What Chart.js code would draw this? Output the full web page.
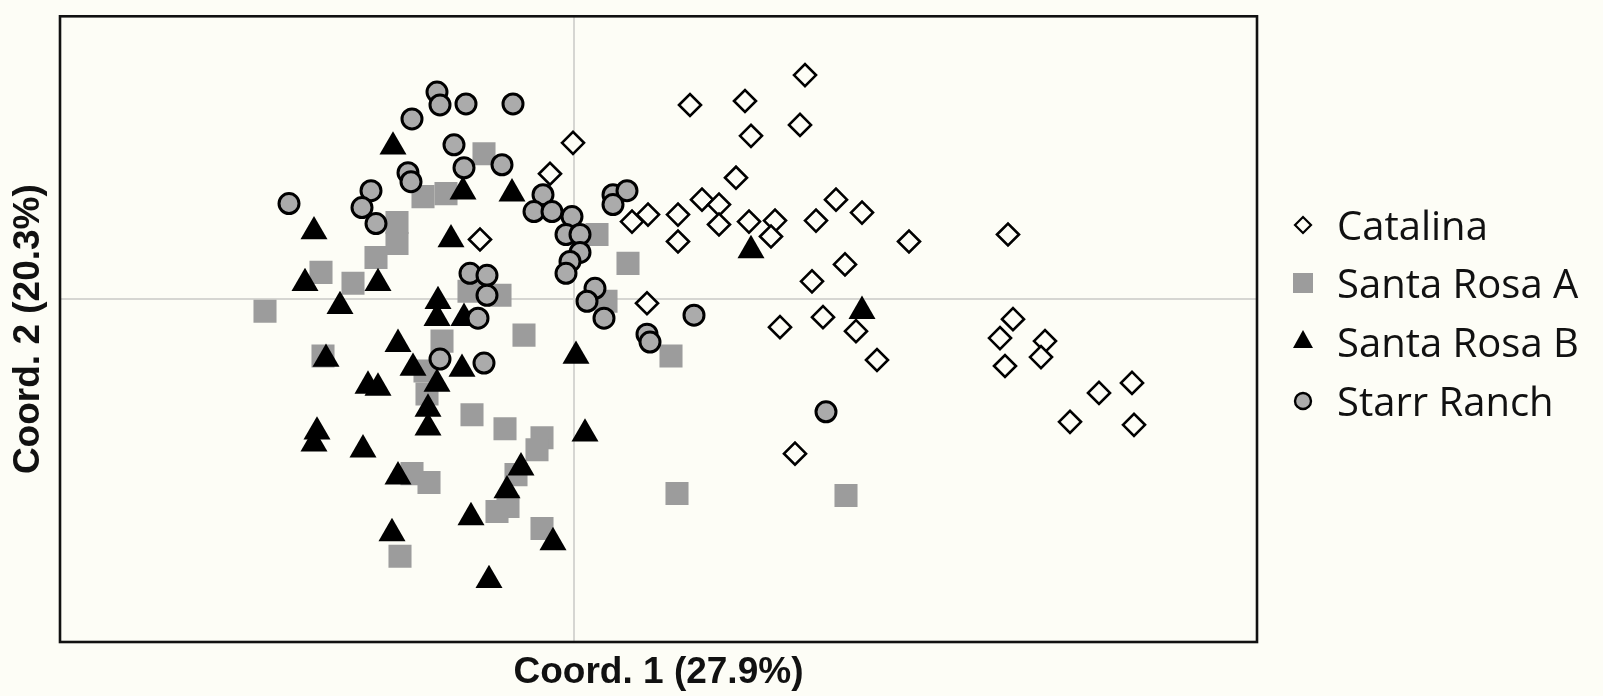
<!DOCTYPE html>
<html>
<head>
<meta charset="utf-8">
<script src="https://cdn.jsdelivr.net/npm/chart.js@4.4.1/dist/chart.umd.min.js"></script>
<style>
  html, body { margin: 0; padding: 0; background: #fdfdf6; }
  #wrap { width: 1603px; height: 696px; }
</style>
</head>
<body>
<div id="wrap"><canvas id="pcoaChart" width="1603" height="696"></canvas></div>
<script>
// Group names, in legend order
const groups = ['Catalina', 'Santa Rosa A', 'Santa Rosa B', 'Starr Ranch'];

// Axis titles
const xTitle = 'Coord. 1 (27.9%)';
const yTitle = 'Coord. 2 (20.3%)';

// Scores, [coord 1, coord 2]
const catalina = [
  [2.31, 2.25], [1.16, 1.95], [1.71, 1.99], [2.26, 1.75], [1.77, 1.64],
  [-0.01, 1.57], [1.62, 1.22], [-0.24, 1.26], [1.28, 1.00], [1.45, 0.95],
  [2.62, 1.00], [0.58, 0.78], [0.74, 0.85], [1.04, 0.85], [1.45, 0.75],
  [1.75, 0.78], [2.01, 0.79], [2.42, 0.79], [1.97, 0.63], [1.04, 0.58],
  [-0.94, 0.60], [2.71, 0.35], [2.38, 0.18], [0.73, -0.04], [2.06, -0.28],
  [2.49, -0.18], [2.82, -0.32], [3.03, -0.61], [2.88, 0.87], [3.35, 0.58],
  [4.34, 0.65], [4.39, -0.20], [4.26, -0.39], [4.71, -0.42], [4.67, -0.58],
  [4.31, -0.67], [5.58, -0.84], [5.25, -0.94], [4.96, -1.23], [5.60, -1.26],
  [2.21, -1.55]
];

const santaRosaA = [
  [-3.09, -0.12], [-2.53, 0.27], [-2.21, 0.16], [-1.98, 0.42], [-1.77, 0.77],
  [-1.77, 0.56], [-1.51, 1.03], [-1.28, 1.06], [-0.90, 1.46], [0.23, 0.65],
  [0.54, 0.36], [0.32, -0.02], [-0.74, 0.04], [-1.05, 0.08], [-0.50, -0.36],
  [0.97, -0.57], [-2.51, -0.57], [-1.32, -0.42], [-1.47, -0.95], [-1.02, -1.16],
  [-0.69, -1.30], [-0.32, -1.39], [-0.37, -1.51], [-0.58, -1.76], [-0.77, -2.13],
  [-0.66, -2.08], [-0.32, -2.30], [1.03, -1.95], [2.72, -1.97], [-1.62, -1.75],
  [-1.45, -1.84], [-1.74, -2.58], [-1.49, -0.72]
];

const santaRosaB = [
  [-1.81, 1.53], [-2.60, 0.68], [-1.11, 1.08], [-0.62, 1.06], [-1.23, 0.60],
  [-2.69, 0.16], [-1.96, 0.16], [-2.34, -0.07], [-1.36, -0.02], [-1.37, -0.19],
  [-1.10, -0.19], [1.77, 0.49], [2.88, -0.12], [-2.48, -0.60], [-1.76, -0.45],
  [-1.61, -0.69], [-2.06, -0.87], [-1.96, -0.89], [-1.37, -0.85], [-1.12, -0.70],
  [-1.46, -1.10], [-1.46, -1.29], [-2.57, -1.33], [-2.60, -1.45], [-2.11, -1.51],
  [-1.76, -1.78], [0.02, -0.57], [0.11, -1.35], [-0.53, -1.69], [-0.67, -1.92],
  [-1.03, -2.19], [-0.21, -2.44], [-1.82, -2.35], [-0.85, -2.82]
];

const starrRanch = [
  [-2.85, 0.96], [-1.37, 2.08], [-1.34, 1.95], [-1.08, 1.96], [-0.61, 1.96],
  [-1.62, 1.81], [-1.20, 1.55], [-1.66, 1.27], [-1.63, 1.18], [-2.03, 1.09],
  [-2.12, 0.92], [-1.98, 0.76], [-1.10, 1.32], [-0.72, 1.35], [-0.31, 1.05],
  [-0.40, 0.88], [-0.22, 0.88], [-0.02, 0.83], [-0.08, 0.65], [0.06, 0.65],
  [0.06, 0.47], [-0.04, 0.38], [-0.08, 0.26], [0.39, 1.05], [0.53, 1.09],
  [0.39, 0.95], [-1.04, 0.26], [-0.87, 0.24], [-0.87, 0.04], [-0.96, -0.19],
  [0.21, 0.11], [0.13, -0.02], [0.30, -0.19], [1.20, -0.16], [0.73, -0.35],
  [0.76, -0.43], [-1.34, -0.60], [-0.90, -0.64], [2.52, -1.13]
];

const xRange = [-5.14, 6.83];
const yRange = [-3.44, 2.84];

const bg = '#fdfdf6';

function toPoints(arr) {
  return arr.map(p => ({ x: p[0], y: p[1] }));
}

// marker styles per group
const markers = [
  { style: 'rectRot', radius: 11, fill: bg, stroke: '#000', width: 2.6 },
  { style: 'rect', radius: 16.3, fill: '#9c9c9c', stroke: '#9c9c9c', width: 0 },
  { style: 'triangle', radius: 15.6, fill: '#000', stroke: '#000', width: 0 },
  { style: 'circle', radius: 10, fill: '#ababab', stroke: '#000', width: 3 }
];
const seriesData = [catalina, santaRosaA, santaRosaB, starrRanch];
// drawing order: higher order drawn first (underneath)
const drawOrder = [0, 3, 2, 1];

// Frame around plot area
const frame = {
  id: 'frame',
  beforeDraw(chart) {
    const { ctx, chartArea: a } = chart;
    ctx.save();
    ctx.fillStyle = bg;
    ctx.fillRect(0, 0, chart.width, chart.height);
    ctx.restore();
  },
  afterDraw(chart) {
    const { ctx, chartArea: a } = chart;
    ctx.save();
    ctx.strokeStyle = '#111';
    ctx.lineWidth = 2.6;
    ctx.strokeRect(a.left, a.top, a.right - a.left, a.bottom - a.top);
    ctx.restore();
  }
};

// Legend to the right of the plot
const sideLegend = {
  id: 'sideLegend',
  afterDraw(chart) {
    const ctx = chart.ctx;
    const mx = 1303, tx = 1337;
    const rows = [225, 283, 341, 401];
    const base = [240, 298, 357, 416];
    ctx.save();
    ctx.font = '40px "Open Sans"';
    ctx.fillStyle = '#111';
    ctx.textBaseline = 'alphabetic';
    groups.forEach((g, i) => {
      const y = rows[i];
      ctx.beginPath();
      if (i === 0) {
        const r = 8;
        ctx.moveTo(mx - r, y); ctx.lineTo(mx, y - r); ctx.lineTo(mx + r, y); ctx.lineTo(mx, y + r);
        ctx.closePath();
        ctx.fillStyle = bg; ctx.fill();
        ctx.lineWidth = 2.2; ctx.strokeStyle = '#000'; ctx.stroke();
      } else if (i === 1) {
        ctx.fillStyle = '#9c9c9c';
        ctx.fillRect(mx - 10, y - 10, 20, 20);
      } else if (i === 2) {
        ctx.moveTo(mx, y - 11); ctx.lineTo(mx + 10, y + 7); ctx.lineTo(mx - 10, y + 7);
        ctx.closePath();
        ctx.fillStyle = '#000'; ctx.fill();
      } else {
        ctx.arc(mx, y, 8, 0, Math.PI * 2);
        ctx.fillStyle = '#ababab'; ctx.fill();
        ctx.lineWidth = 2.4; ctx.strokeStyle = '#000'; ctx.stroke();
      }
      ctx.fillStyle = '#111';
      ctx.fillText(g, tx, base[i]);
    });
    ctx.restore();
  }
};

const zeroOnly = scale => { scale.ticks = [{ value: 0 }]; };

const ctx = document.getElementById('pcoaChart').getContext('2d');
const pcoaChart = new Chart(ctx, {
  type: 'scatter',
  data: {
    datasets: groups.map((g, i) => ({
      label: g,
      data: toPoints(seriesData[i]),
      order: drawOrder[i],
      pointStyle: markers[i].style,
      pointRadius: markers[i].radius,
      pointBackgroundColor: markers[i].fill,
      pointBorderColor: markers[i].stroke,
      pointBorderWidth: markers[i].width,
      pointHoverRadius: markers[i].radius
    }))
  },
  options: {
    responsive: false,
    animation: false,
    events: [],
    layout: { padding: { left: 0, top: 14, right: 346, bottom: 0 } },
    plugins: {
      legend: { display: false },
      tooltip: { enabled: false }
    },
    scales: {
      x: {
        type: 'linear',
        min: xRange[0],
        max: xRange[1],
        afterBuildTicks: zeroOnly,
        ticks: { display: false },
        border: { display: false },
        grid: { color: '#d6d6d2', lineWidth: 2, drawTicks: false },
        title: {
          display: true,
          text: xTitle,
          color: '#111',
          font: { family: '"Liberation Sans", Arial, sans-serif', size: 37, weight: 'bold' },
          padding: { top: 8.8, bottom: 0.8 }
        }
      },
      y: {
        type: 'linear',
        min: yRange[0],
        max: yRange[1],
        afterBuildTicks: zeroOnly,
        ticks: { display: false },
        border: { display: false },
        grid: { color: '#d6d6d2', lineWidth: 2, drawTicks: false },
        title: {
          display: true,
          text: yTitle,
          color: '#111',
          font: { family: '"Liberation Sans", Arial, sans-serif', size: 37, weight: 'bold' },
          padding: { top: 6.8, bottom: 8.8 }
        }
      }
    }
  },
  plugins: [frame, sideLegend]
});
</script>
</body>
</html>
